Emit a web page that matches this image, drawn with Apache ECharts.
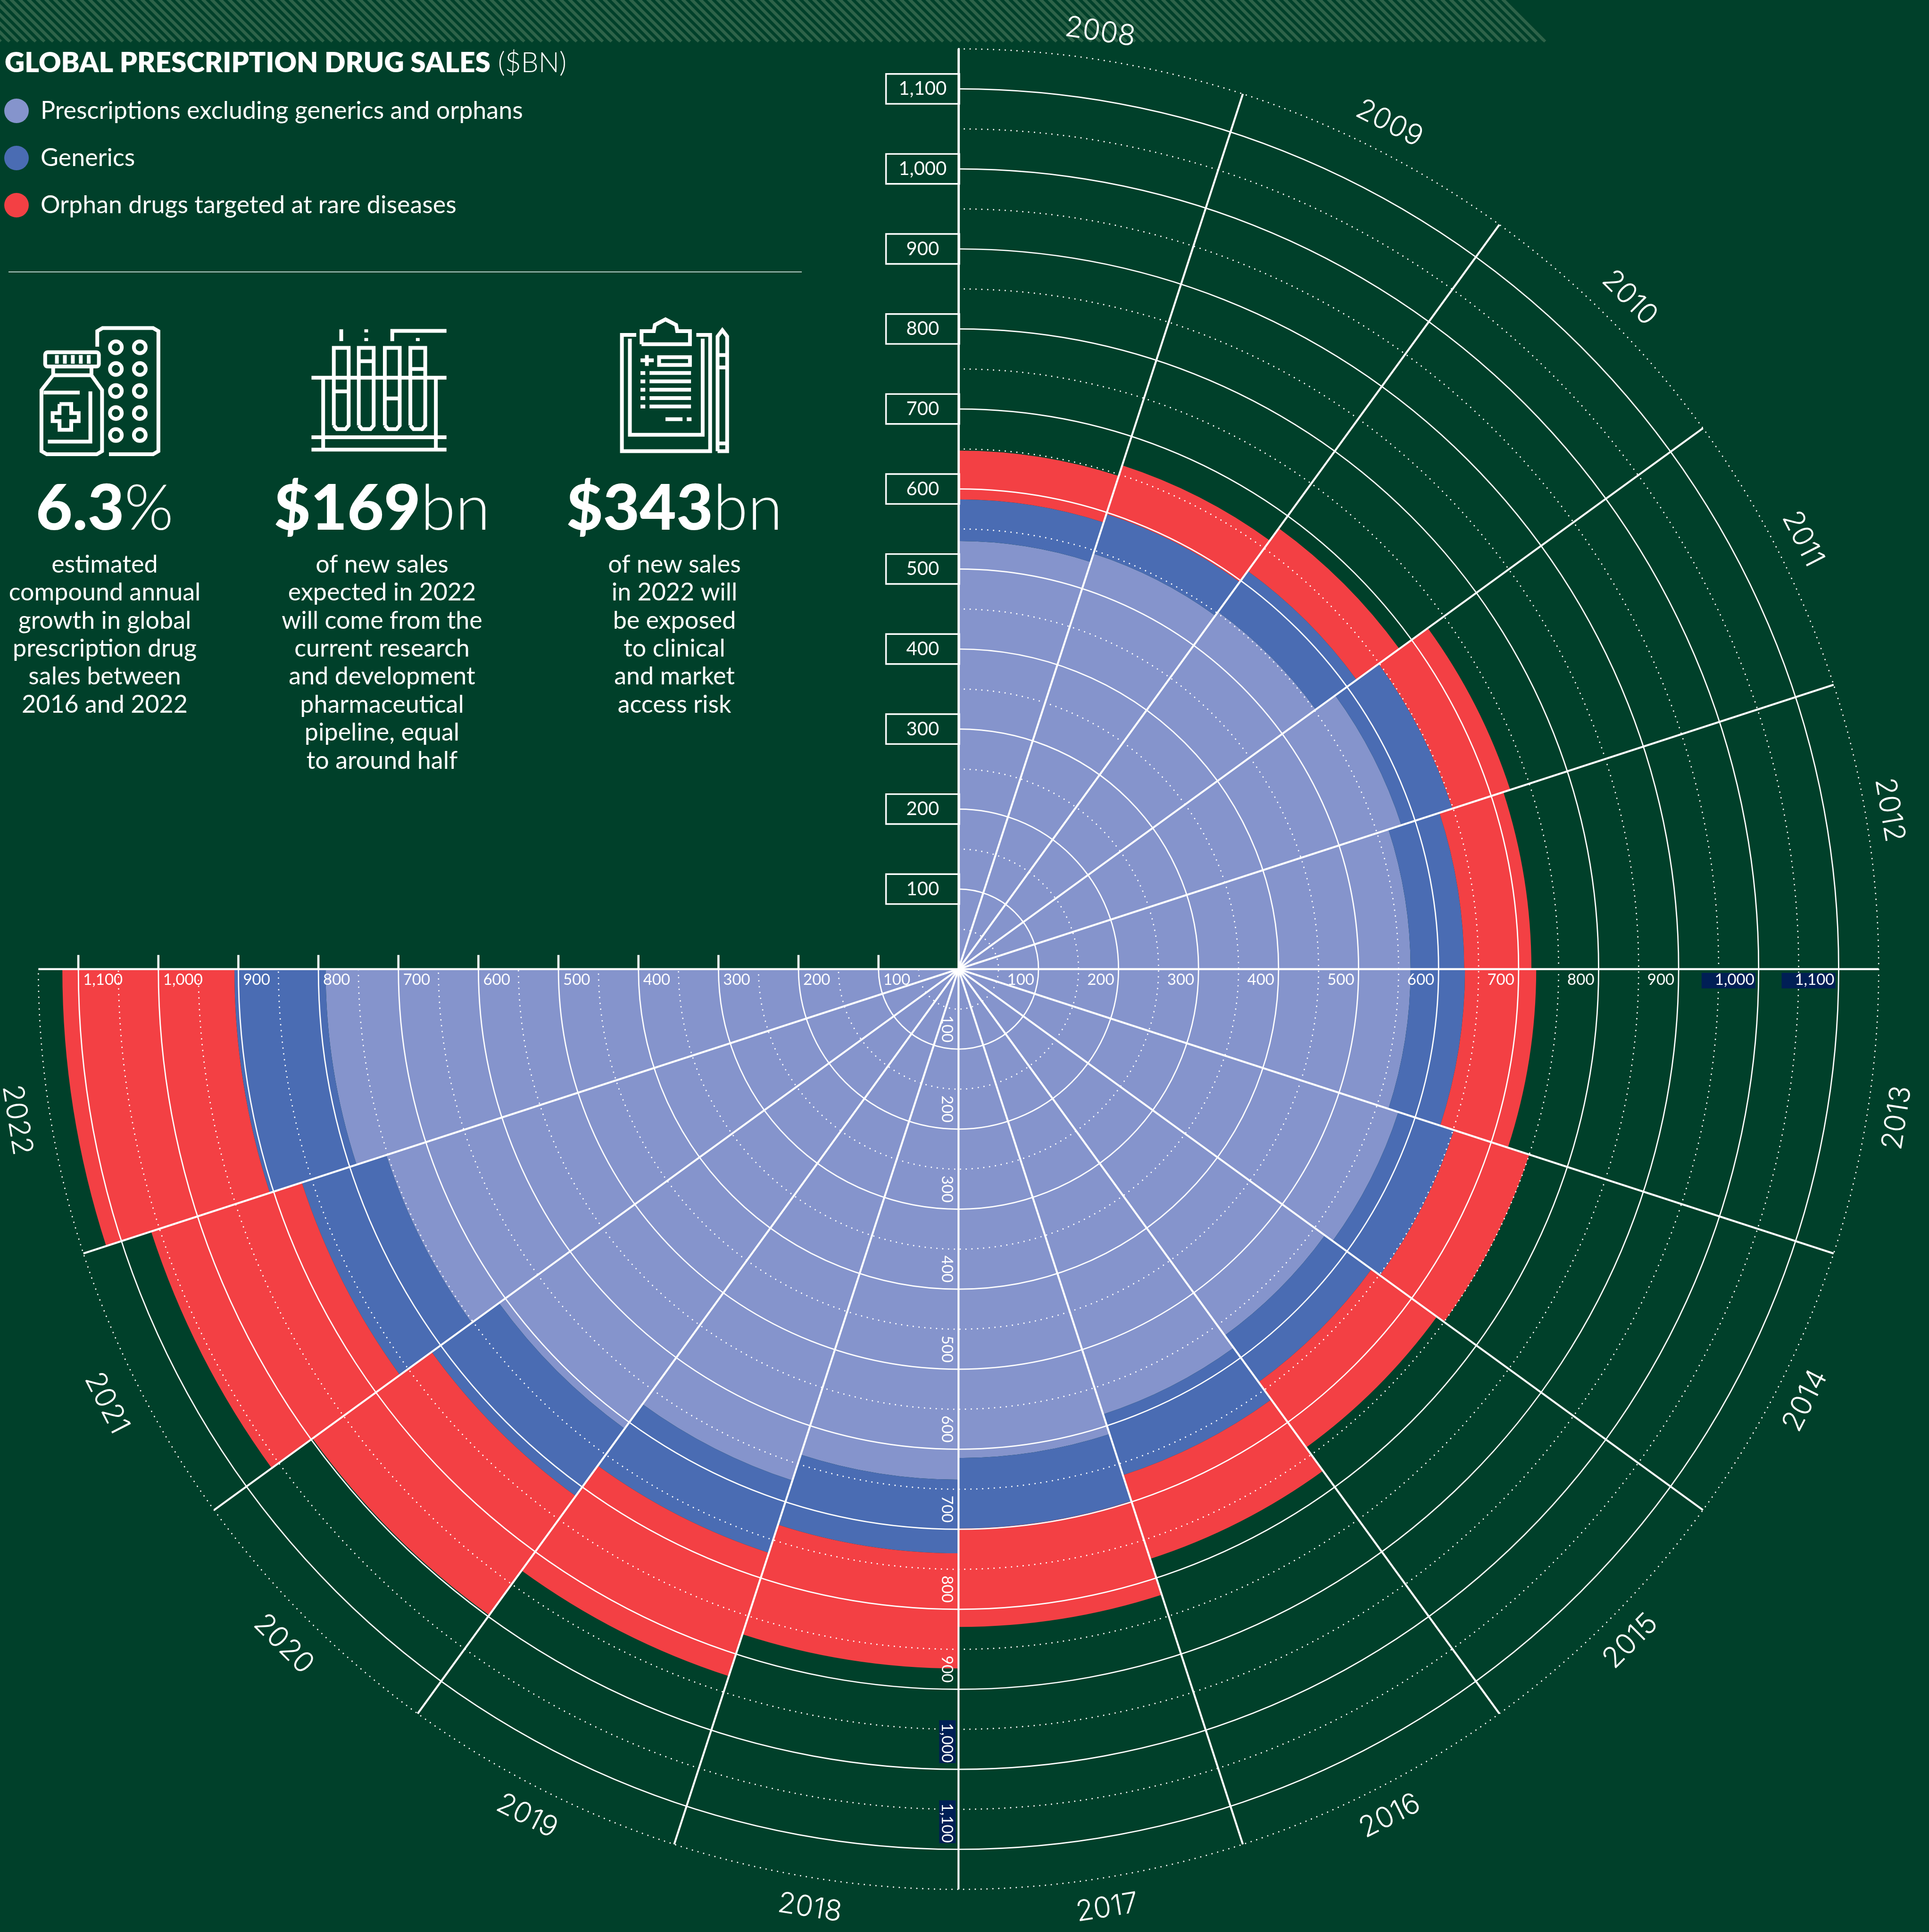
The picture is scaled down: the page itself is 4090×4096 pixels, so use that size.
<!DOCTYPE html>
<html><head><meta charset="utf-8">
<style>html,body{margin:0;padding:0;background:#00402A}#c{width:4090px;height:4096px}</style>
<script src="https://cdn.jsdelivr.net/npm/echarts@6/dist/echarts.min.js"></script>
</head><body><div id="c"></div>
<script>
const years = ['2008','2009','2010','2011','2012','2013','2014','2015','2016','2017','2018','2019','2020','2021','2022'];
const yearLabelAngles = [8.6,27,45,63,80.3,99,117,135,153,171,189,207,225,243,260.9];
const yearLabelRadii  = [1184,1186,1186,1184,1180,1188,1188,1188,1188,1188,1188,1188,1193,1195,1192];
const blankSlots = ['s1','s2','s3','s4','s5'];
const prescriptions = [535,546,552,582,565,565,578,566,585,611,638,672,710,752,791];
const generics      = [52,52,63,67,67,68,73,72,80,88,92,95,104,111,114];
const orphans       = [61,64,66,76,84,89,99,101,110,123,144,162,184,198,215];
const solidRings  = [100,200,300,400,500,600,700,800,900,1000,1100];
const dottedRings = [50,150,250,350,450,550,650,750,850,950,1050,1150];
const spokeAngles = [0,18,36,54,72,90,108,126,144,162,180,198,216,234,252,270];
const seriesNames = ['Prescriptions excluding generics and orphans','Generics','Orphan drugs targeted at rare diseases'];
const titleBold = 'GLOBAL PRESCRIPTION DRUG SALES';
const titleLight = ' ($BN)';
const stats = [
  {big:'6.3', small:'%', lines:['estimated','compound annual','growth in global','prescription drug','sales between','2016 and 2022']},
  {big:'$169', small:'bn', lines:['of new sales','expected in 2022','will come from the','current research','and development','pharmaceutical','pipeline, equal','to around half']},
  {big:'$343', small:'bn', lines:['of new sales','in 2022 will','be exposed','to clinical','and market','access risk']}
];
const BG='#00402A', LIGHT='#8594CC', BLUE='#4A6CB3', RED='#F34044', NAVY='#001F55', WHITE='#FFFFFF', STRIPE='#2E6349';
const FONT='Lato';
const CX=2032.3, CY=2054.6, R=1951;
const fmt = v => v>=1000 ? Math.floor(v/1000)+','+String(v%1000).padStart(3,'0') : String(v);

/* ---------- left column and header artwork ---------- */
const X=z=>z*1.127, Y=z=>z*0.6574;
const st={stroke:WHITE,lineWidth:8,fill:null,lineJoin:'miter'};
const pl=(pts)=>({type:'polyline',shape:{points:pts.map(p=>[X(p[0]),Y(p[1])])},style:st});
const rr=(x0,y0,x1,y1,r)=>({type:'rect',shape:{x:X(x0),y:Y(y0),width:X(x1)-X(x0),height:Y(y1)-Y(y0),r:r||0},style:st});
const ci=(x,y,r)=>({type:'circle',shape:{cx:X(x),cy:Y(y),r:r},style:st});
const icons=[];
/* blister + bottle */
icons.push(pl([[183,1118],[183,1068],[193,1058],[288,1058],[298,1068],[298,1455],[288,1465],[205,1465]]));
[218,263].forEach(x=>[1120,1190,1261,1332,1403].forEach(y=>icons.push(ci(x,y,12.5))));
icons.push(rr(85,1136,186,1182,5));
[107,122,137,152,167].forEach(x=>icons.push(pl([[x,1145],[x,1173]])));
icons.push(pl([[100,1182],[100,1210],[78,1258],[78,1455],[88,1465],[182,1465],[192,1455],[192,1258],[172,1210],[172,1182]]));
icons.push(pl([[100,1210],[172,1210]]));
icons.push(pl([[82,1266],[150,1266]]));
icons.push(pl([[170,1262],[170,1424],[90,1424]]));
icons.push(pl([[112,1303],[134,1303],[134,1332],[148,1332],[148,1358],[134,1358],[134,1386],[112,1386],[112,1358],[99,1358],[99,1332],[112,1332],[112,1303]]));
/* test tubes */
icons.push(pl([[586,1218],[840,1218]]),pl([[608,1218],[608,1455]]),pl([[820,1218],[820,1455]]));
icons.push(pl([[586,1410],[840,1410]]),pl([[586,1450],[840,1450]]));
[642,689,738,786].forEach(x=>{
  icons.push(pl([[x-14,1372],[x-14,1122],[x+14,1122],[x+14,1372],[x+8,1384],[x-8,1384],[x-14,1372]]));
});
icons.push(pl([[628,1262],[656,1262]]),pl([[675,1165],[703,1165]]),pl([[724,1285],[752,1285]]),pl([[772,1190],[800,1190]]));
icons.push(pl([[642,1062],[642,1100]]),pl([[689,1062],[689,1072]]),pl([[689,1090],[689,1100]]));
icons.push(pl([[738,1100],[738,1067],[840,1067]]),pl([[786,1090],[786,1100]]));
/* clipboard */
icons.push(pl([[1197,1080],[1170,1080],[1170,1455],[1336,1455],[1336,1080],[1310,1080]]));
icons.push(pl([[1185,1092],[1185,1402],[1322,1402],[1322,1092]]));
icons.push(pl([[1207,1110],[1207,1068],[1230,1068],[1232,1048],[1252,1030],[1272,1048],[1274,1068],[1298,1068],[1298,1110],[1207,1110]]));
icons.push(pl([[1205,1162],[1230,1162]]),pl([[1217,1145],[1217,1180]]));
icons.push(rr(1240,1152,1298,1177));
[1203,1230,1257,1284,1311].forEach(y=>{icons.push(pl([[1222,y],[1300,y]]),pl([[1205,y],[1214,y]]));});
icons.push(pl([[1252,1352],[1284,1352]]),pl([[1292,1352],[1301,1352]]));
icons.push(pl([[1350,1455],[1350,1085],[1359,1065],[1368,1085],[1368,1455],[1350,1455]]));
icons.push(pl([[1350,1145],[1368,1145]]),pl([[1350,1185],[1368,1185]]),pl([[1350,1430],[1368,1430]]));

const stripes=[];
for(let x=3183;x>-120;x-=18.5){
  stripes.push({type:'polygon',shape:{points:[[x,0],[x+9.4,0],[x+9.4+86,86],[x+91,90],[x+86,86]]},style:{fill:STRIPE},silent:true});
}
const centers=[222,810,1430];
const lineY0=1197, lineStep=59.4;
const texts=[];
stats.forEach((s,i)=>{
  texts.push({type:'text',x:centers[i],y:1080,style:{
    text:'{a|'+s.big+'}{b|'+s.small+'}',align:'center',verticalAlign:'middle',fill:WHITE,
    rich:{a:{font:'900 134px '+FONT,fill:WHITE},b:{font:'300 134px '+FONT,fill:WHITE}}}});
  s.lines.forEach((t,j)=>texts.push({type:'text',x:centers[i],y:lineY0+j*lineStep,style:{
    text:t,align:'center',verticalAlign:'middle',fill:WHITE,font:'400 52px '+FONT}}));
});

/* ---------- custom renderers (all positions go through the polar scales) ---------- */
function centre(api){return api.coord([0,0]);}
function ringRenderer(width,dash){
  return (params,api)=>{
    const c=centre(api),p=api.coord([api.value(0),0]);
    const r=Math.hypot(p[0]-c[0],p[1]-c[1]);
    return {type:'arc',silent:true,shape:{cx:c[0],cy:c[1],r:r,startAngle:-Math.PI/2,endAngle:Math.PI,clockwise:true},
      style:{stroke:WHITE,lineWidth:width,fill:null,lineDash:dash||null,lineCap:dash?'round':'butt'}};
  };
}
const polarExtras={coordinateSystem:'polar',polarIndex:1,silent:true,animation:false,z:6,tooltip:{show:false}};

const option={
  animation:false,
  backgroundColor:BG,
  title:{left:10,top:105,padding:0,text:'{a|'+titleBold+'}{b|'+titleLight+'}',
    textStyle:{rich:{a:{fontFamily:FONT,fontWeight:800,fontSize:58.5,color:WHITE},b:{fontFamily:FONT,fontWeight:300,fontSize:58.5,color:WHITE}}}},
  legend:{show:true,orient:'vertical',left:9,top:209,padding:0,itemWidth:52,itemHeight:52,itemGap:48,icon:'circle',
    data:seriesNames,selectedMode:false,textStyle:{color:WHITE,fontFamily:FONT,fontSize:52,padding:[0,0,0,20]}},
  polar:[{center:[CX,CY],radius:[0,R]},{center:[CX,CY],radius:[0,R]}],
  angleAxis:[
    {polarIndex:0,type:'category',data:years.concat(blankSlots),startAngle:90,clockwise:true,boundaryGap:true,
     axisLine:{show:false},axisTick:{show:false},axisLabel:{show:false},splitLine:{show:false}},
    {polarIndex:1,type:'value',min:0,max:360,interval:18,startAngle:90,clockwise:true,
     axisLine:{show:false},axisTick:{show:false},axisLabel:{show:false},splitLine:{show:false}}
  ],
  radiusAxis:[
    {polarIndex:0,type:'value',min:0,max:1150,interval:100,z:4,
     axisLine:{show:true,lineStyle:{color:WHITE,width:4.2}},axisTick:{show:false},splitLine:{show:false},
     axisLabel:{show:true,margin:0,showMinLabel:false,showMaxLabel:false,hideOverlap:false,
       formatter:v=>solidRings.includes(v)?'{box|'+fmt(v)+'}':'',
       rich:{box:{width:152,height:60,lineHeight:60,align:'center',verticalAlign:'middle',color:WHITE,fontFamily:FONT,fontSize:40,
         borderColor:WHITE,borderWidth:3.4,backgroundColor:BG}}}},
    {polarIndex:1,type:'value',min:0,max:1150,show:false,
     axisLine:{show:false},axisTick:{show:false},axisLabel:{show:false},splitLine:{show:false}}
  ],
  series:[
    {name:seriesNames[0],type:'bar',coordinateSystem:'polar',polarIndex:0,stack:'sales',data:prescriptions,barCategoryGap:'0%',itemStyle:{color:LIGHT},z:2},
    {name:seriesNames[1],type:'bar',coordinateSystem:'polar',polarIndex:0,stack:'sales',data:generics,barCategoryGap:'0%',itemStyle:{color:BLUE},z:2},
    {name:seriesNames[2],type:'bar',coordinateSystem:'polar',polarIndex:0,stack:'sales',data:orphans,barCategoryGap:'0%',itemStyle:{color:RED},z:2},
    Object.assign({type:'custom',name:'dotted',data:dottedRings.map(v=>[v,0]),renderItem:ringRenderer(3,[0.01,12.4])},polarExtras),
    Object.assign({type:'custom',name:'rings',data:solidRings.map(v=>[v,0]),renderItem:ringRenderer(2.7)},polarExtras),
    Object.assign({type:'custom',name:'spokes',data:spokeAngles.map(a=>[1150,a]),
      renderItem:(params,api)=>{
        const c=centre(api),p=api.coord([api.value(0),api.value(1)]);
        return {type:'line',silent:true,shape:{x1:c[0],y1:c[1],x2:p[0],y2:p[1]},style:{stroke:WHITE,lineWidth:4.2}};
      }},polarExtras),
    /* ticks above the left-hand axis */
    Object.assign({type:'custom',name:'leftTicks',data:solidRings.map(v=>[v,270]),
      renderItem:(params,api)=>{
        const p=api.coord([api.value(0),270]);
        return {type:'line',silent:true,shape:{x1:p[0],y1:p[1],x2:p[0],y2:p[1]-30},style:{stroke:WHITE,lineWidth:4.6}};
      }},polarExtras),
    /* right-hand scale */
    Object.assign({type:'custom',name:'rightLabels',z:7,data:solidRings.map(v=>[v,90]),
      renderItem:(params,api)=>{
        const v=api.value(0),p=api.coord([v,90]);
        const kids=[];
        if(v>=1000) kids.push({type:'rect',shape:{x:p[0]-121,y:p[1]+8,width:114,height:33},style:{fill:NAVY}});
        kids.push({type:'text',x:p[0]-9,y:p[1]+23,style:{text:fmt(v),align:'right',verticalAlign:'middle',fill:WHITE,font:'400 33px '+FONT}});
        return {type:'group',silent:true,children:kids};
      }},polarExtras),
    /* bottom scale */
    Object.assign({type:'custom',name:'bottomLabels',z:7,data:solidRings.map(v=>[v,180]),
      renderItem:(params,api)=>{
        const v=api.value(0),p=api.coord([v,180]);
        const kids=[];
        if(v>=1000) kids.push({type:'rect',shape:{x:p[0]-41,y:p[1]-104,width:35,height:91},style:{fill:NAVY}});
        kids.push({type:'text',x:p[0]-25,y:p[1]-14,rotation:-Math.PI/2,style:{text:fmt(v),align:'right',verticalAlign:'middle',fill:WHITE,font:'400 33px '+FONT}});
        return {type:'group',silent:true,children:kids};
      }},polarExtras),
    /* left-hand scale */
    Object.assign({type:'custom',name:'leftLabels',z:7,data:solidRings.map(v=>[v,270]),
      renderItem:(params,api)=>{
        const v=api.value(0),p=api.coord([v,270]);
        return {type:'text',silent:true,x:p[0]+10,y:p[1]+23,style:{text:fmt(v),align:'left',verticalAlign:'middle',fill:WHITE,font:'400 33px '+FONT}};
      }},polarExtras),
    /* year labels, tangential */
    Object.assign({type:'custom',name:'yearLabels',z:7,data:yearLabelAngles.map((a,i)=>[yearLabelRadii[i],a]),
      renderItem:(params,api)=>{
        const a=api.value(1),p=api.coord([api.value(0),a]);
        const cw=a<90?a:a-180;
        return {type:'text',silent:true,x:p[0],y:p[1],rotation:-cw*Math.PI/180,
          style:{text:years[params.dataIndex],align:'center',verticalAlign:'middle',fill:WHITE,font:'300 61px Inter'}};
      }},polarExtras)
  ],
  graphic:[
    {type:'group',silent:true,z:-1,children:stripes},
    {type:'line',silent:true,shape:{x1:18,y1:576.5,x2:1700,y2:576.5},style:{stroke:WHITE,lineWidth:1.5}},
    {type:'group',silent:true,children:icons},
    {type:'group',silent:true,children:texts}
  ]
};
const chart=echarts.init(document.getElementById('c'),null,{renderer:'canvas',width:4090,height:4096});
chart.setOption(option);
</script></body></html>
